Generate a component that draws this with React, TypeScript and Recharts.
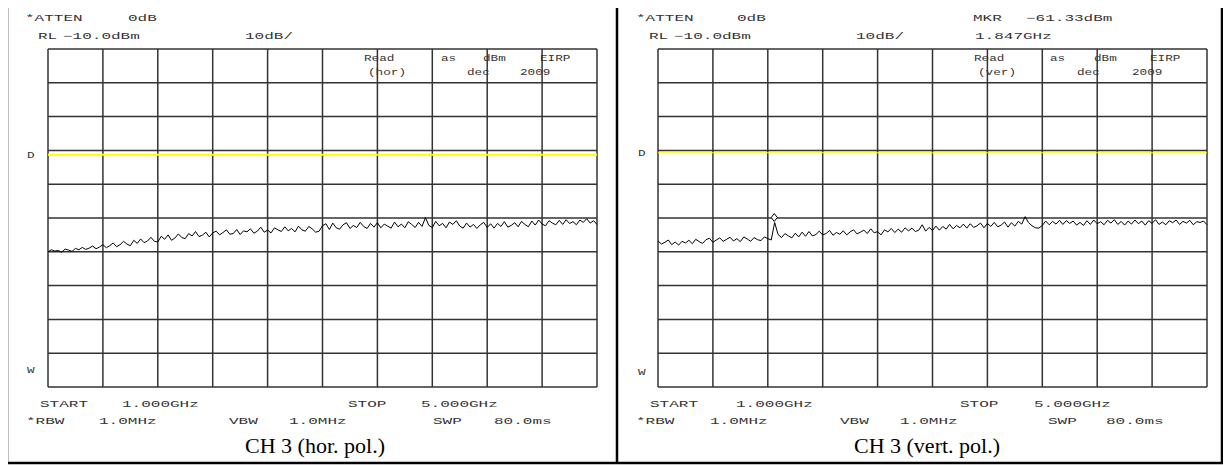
import React from 'react';
import {
  LineChart,
  Line,
  XAxis,
  YAxis,
  CartesianGrid,
  ReferenceLine,
  ReferenceDot,
} from 'recharts';

// sweep: 1.000 - 5.000 GHz, 161 trace points
const START_GHZ = 1.0;
const STOP_GHZ = 5.0;
const FREQ_TICKS = [1.0, 1.4, 1.8, 2.2, 2.6, 3.0, 3.4, 3.8, 4.2, 4.6, 5.0];
// RL -10 dBm, 10 dB/div
const LEVEL_TICKS = [-110, -100, -90, -80, -70, -60, -50, -40, -30, -20, -10];

// display line "D" level (dBm) for each plot
const DISPLAY_LINE = [-41.3, -40.7];

// marker on the vertical polarisation sweep
const MARKER_GHZ = 1.847;
const MARKER_DBM = -61.33;

// CH 3, horizontal polarisation (dBm)
const HOR_TRACE = [
  -70.0, -69.4, -69.8, -69.6, -70.1, -69.2, -69.5, -69.9, -69.0, -69.4,
  -68.7, -69.3, -68.9, -68.3, -69.1, -68.6, -67.9, -68.8, -68.2, -67.4,
  -68.5, -67.9, -66.9, -67.7, -68.2, -66.6, -67.5, -66.2, -67.3, -66.8,
  -65.7, -66.9, -67.1, -65.4, -66.3, -65.0, -66.6, -65.9, -64.7, -65.8,
  -66.1, -64.6, -65.3, -64.0, -65.5, -65.1, -64.2, -65.6, -64.4, -63.9,
  -65.0, -64.3, -63.5, -64.8, -64.6, -63.4, -64.9, -63.8, -64.1, -63.2,
  -64.5, -63.9, -62.7, -64.2, -63.6, -64.4, -62.9, -63.5, -64.0, -62.6,
  -63.8, -63.1, -64.1, -62.4, -63.5, -63.9, -62.5, -63.2, -64.2, -63.9,
  -62.3, -61.7, -63.4, -61.5, -62.9, -63.3, -62.0, -61.4, -63.1, -62.2,
  -62.8, -61.3, -62.5, -63.1, -61.6, -62.7, -61.4, -62.9, -61.8, -62.4,
  -63.0, -61.2, -62.6, -61.8, -62.9, -61.1, -61.9, -62.8, -61.3, -62.5,
  -59.9, -62.2, -62.8, -61.0, -62.3, -61.6, -62.9, -61.2, -61.9, -60.8,
  -62.4, -63.0, -61.5, -62.7, -61.9, -63.1, -62.0, -61.3, -62.8, -61.7,
  -63.0, -61.6, -62.5, -61.1, -62.7, -62.2, -61.4, -62.6, -61.0, -61.9,
  -62.6, -60.9, -62.1, -60.6, -61.8, -62.3, -60.8, -61.5, -62.0, -60.7,
  -61.9, -60.5, -61.6, -61.1, -62.0, -60.6, -61.3, -60.2, -61.5, -60.8,
  -61.9,
];

// CH 3, vertical polarisation (dBm)
const VERT_TRACE = [
  -66.8, -67.7, -67.2, -66.5, -67.9, -67.1, -68.0, -66.9, -67.4, -66.6,
  -67.6, -66.3, -67.0, -67.5, -66.4, -66.0, -67.2, -66.5, -65.9, -66.9,
  -66.3, -65.7, -66.8, -66.1, -67.0, -65.6, -66.2, -66.9, -65.8, -66.4,
  -66.7, -65.6, -66.1, -66.5, -61.33, -64.9, -65.8, -64.6, -65.3, -65.9,
  -64.5, -65.6, -64.2, -65.4, -64.0, -65.3, -64.9, -63.9, -65.0, -64.6,
  -63.7, -65.1, -64.3, -64.8, -63.8, -65.0, -64.1, -63.5, -64.7, -64.2,
  -63.6, -64.6, -63.2, -64.4, -64.0, -65.0, -63.5, -64.1, -63.1, -64.3,
  -63.3, -64.2, -62.9, -63.8, -63.0, -64.0, -63.6, -62.0, -63.9, -62.8,
  -63.7, -62.4, -63.6, -62.5, -63.3, -61.9, -63.2, -62.2, -62.9, -61.8,
  -63.0, -61.7, -62.8, -62.3, -61.5, -62.9, -61.6, -62.5, -61.3, -62.6,
  -62.1, -61.2, -62.7, -61.4, -62.4, -61.0, -61.8, -59.6, -61.4, -62.3,
  -62.9, -63.0, -62.2, -60.9, -62.0, -61.0, -61.8, -60.7, -61.9, -60.8,
  -61.6, -60.9, -62.1, -61.3, -62.2, -60.8, -61.9, -60.6, -61.7, -61.1,
  -62.0, -60.7, -61.5, -60.5, -61.9, -61.0, -62.1, -60.9, -61.8, -60.6,
  -61.7, -60.9, -62.1, -60.8, -61.6, -60.5, -61.9, -61.2, -62.0, -60.8,
  -61.4, -60.6, -61.9, -61.0, -61.5, -60.7, -62.0, -61.1, -61.3, -60.9,
  -62.0,
];

const CAPTIONS = ['CH 3 (hor. pol.)', 'CH 3 (vert. pol.)'];

// analyzer annotation text: [text, x, y]
const HOR_NOTES: [string, number, number][] = [
  ['*ATTEN', 25, 21], ['0dB', 128, 21],
  ['RL', 38, 39], ['\u221210.0dBm', 63, 39], ['10dB/', 245, 39],
  ['START', 40, 407], ['1.000GHz', 122, 407], ['STOP', 348, 407], ['5.000GHz', 421, 407],
  ['*RBW', 26, 424], ['1.0MHz', 99, 424], ['VBW', 229, 424], ['1.0MHz', 289, 424],
  ['SWP', 433, 424], ['80.0ms', 494, 424],
];
const VERT_NOTES: [string, number, number][] = [
  ['*ATTEN', 636, 21], ['0dB', 737, 21], ['MKR', 973, 21], ['\u221261.33dBm', 1026, 21],
  ['RL', 649, 39], ['\u221210.0dBm', 674, 39], ['10dB/', 856, 39], ['1.847GHz', 975, 39],
  ['START', 650, 407], ['1.000GHz', 736, 407], ['STOP', 960, 407], ['5.000GHz', 1034, 407],
  ['*RBW', 636, 424], ['1.0MHz', 710, 424], ['VBW', 840, 424], ['1.0MHz', 900, 424],
  ['SWP', 1048, 424], ['80.0ms', 1106, 424],
];
// smaller text written inside the graticule
const HOR_GRID_NOTES: [string, number, number][] = [
  ['Read', 364, 61], ['as', 441, 61], ['dBm', 483, 61], ['EIRP', 540, 61],
  ['(hor)', 368, 75], ['dec', 467, 75], ['2009', 520, 75],
  ['D', 27, 158], ['W', 27, 373],
];
const VERT_GRID_NOTES: [string, number, number][] = [
  ['Read', 974, 61], ['as', 1050, 61], ['dBm', 1094, 61], ['EIRP', 1150, 61],
  ['(ver)', 978, 75], ['dec', 1077, 75], ['2009', 1132, 75],
  ['D', 638, 156], ['W', 638, 375],
];

const FONT = '"Liberation Mono", "DejaVu Sans Mono", monospace';

const toRows = (trace: number[]) => {
  const step = (STOP_GHZ - START_GHZ) / (trace.length - 1);
  return trace.map((v, i) => ({ f: START_GHZ + i * step, level: v }));
};

const Diamond = (props: any) => {
  const { cx, cy } = props;
  if (cx == null || cy == null) return null;
  const y = cy - 5;
  return (
    <path
      d={`M${cx},${y - 4} L${cx + 3},${y} L${cx},${y + 4} L${cx - 3},${y} Z`}
      fill="#fff"
      stroke="#000"
      strokeWidth={1}
    />
  );
};

interface PlotProps {
  trace: number[];
  left: number;
  displayLine: number;
  lineWidth: number;
  marker?: boolean;
}

const Plot: React.FC<PlotProps> = ({ trace, left, displayLine, lineWidth, marker }) => (
  <div style={{ position: 'absolute', left, top: 47 }}>
    <LineChart
      width={553}
      height={342}
      data={toRows(trace)}
      margin={{ top: 2, right: 2, bottom: 2, left: 2 }}
    >
      <CartesianGrid stroke="#333" strokeWidth={1.5} />
      <XAxis
        dataKey="f"
        type="number"
        domain={[START_GHZ, STOP_GHZ]}
        ticks={FREQ_TICKS}
        hide
      />
      <YAxis type="number" domain={[-110, -10]} ticks={LEVEL_TICKS} hide />
      <ReferenceLine y={displayLine} stroke="#ffff00" strokeWidth={lineWidth} />
      <Line
        type="linear"
        dataKey="level"
        stroke="#000"
        strokeWidth={1}
        dot={false}
        isAnimationActive={false}
      />
      {marker && (
        <ReferenceDot x={MARKER_GHZ} y={MARKER_DBM} r={3} shape={Diamond} />
      )}
    </LineChart>
  </div>
);

const Notes: React.FC<{ items: [string, number, number][]; charW: number; size: number }> = ({
  items,
  charW,
  size,
}) => (
  <>
    {items.map(([t, x, y], i) => (
      <text
        key={i}
        x={x}
        y={y}
        fontFamily={FONT}
        fontSize={size}
        fill="#333"
        textLength={t.length * charW}
        lengthAdjust="spacingAndGlyphs"
      >
        {t}
      </text>
    ))}
  </>
);

export default function App() {
  return (
    <div
      style={{
        position: 'relative',
        width: 1231,
        height: 465,
        margin: '-8px 0 0 -8px',
        background: '#fff',
        overflow: 'hidden',
      }}
    >
      <Plot trace={HOR_TRACE} left={46} displayLine={DISPLAY_LINE[0]} lineWidth={2} />
      <Plot trace={VERT_TRACE} left={656} displayLine={DISPLAY_LINE[1]} lineWidth={1.2} marker />

      <svg
        width={1231}
        height={465}
        style={{ position: 'absolute', left: 0, top: 0, pointerEvents: 'none' }}
      >
        <rect x={7} y={6} width={1215} height={457} fill="none" stroke="#000" strokeWidth={2.5} />
        <line x1={617} y1={6} x2={617} y2={463} stroke="#000" strokeWidth={2.5} />

        <Notes items={HOR_NOTES} charW={9.6} size={9} />
        <Notes items={VERT_NOTES} charW={9.6} size={9} />
        <Notes items={HOR_GRID_NOTES} charW={7.6} size={9} />
        <Notes items={VERT_GRID_NOTES} charW={7.6} size={9} />

        {CAPTIONS.map((c, i) => (
          <text
            key={c}
            x={i === 0 ? 315 : 927}
            y={453}
            textAnchor="middle"
            fontFamily='"Liberation Serif", "Times New Roman", serif'
            fontSize={22}
            fill="#000"
          >
            {c}
          </text>
        ))}
      </svg>
    </div>
  );
}
